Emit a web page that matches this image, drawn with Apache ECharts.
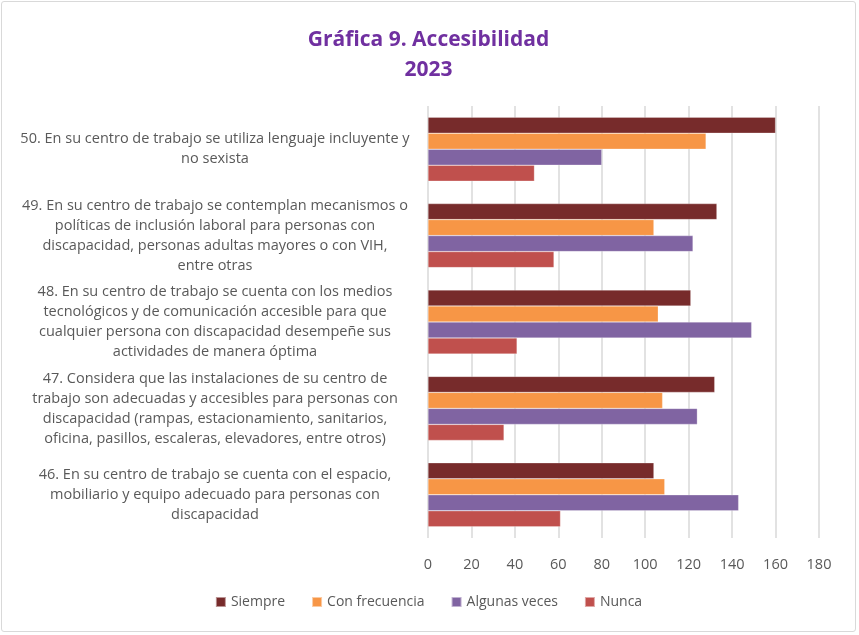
<!DOCTYPE html>
<html>
<head>
<meta charset="utf-8">
<script src="https://cdn.jsdelivr.net/npm/echarts@6/dist/echarts.min.js"></script>
<style>
  html, body { margin: 0; padding: 0; background: #fff; }
  #chart { position: absolute; left: 1px; top: 1px; width: 855px; height: 631px;
           border: 1px solid #d9d9d9; border-radius: 3px; box-sizing: border-box; }
</style>
</head>
<body>
<div id="chart"></div>
<script>
// preguntas, de arriba hacia abajo
var categories = [
  '50. En su centro de trabajo se utiliza lenguaje incluyente y\nno sexista',
  '49. En su centro de trabajo se contemplan mecanismos o\npolíticas de inclusión laboral para personas con\ndiscapacidad, personas adultas mayores o con VIH,\nentre otras',
  '48. En su centro de trabajo se cuenta con los medios\ntecnológicos y de comunicación accesible para que\ncualquier persona con discapacidad desempeñe sus\nactividades de manera óptima',
  '47. Considera que las instalaciones de su centro de\ntrabajo son adecuadas y accesibles para personas con\ndiscapacidad (rampas, estacionamiento, sanitarios,\noficina, pasillos, escaleras, elevadores, entre otros)',
  '46. En su centro de trabajo se cuenta con el espacio,\nmobiliario y equipo adecuado para personas con\ndiscapacidad'
];
var seriesNames = ['Siempre', 'Con frecuencia', 'Algunas veces', 'Nunca'];
var siempre       = [160, 133, 121, 132, 104];
var conFrecuencia = [128, 104, 106, 108, 109];
var algunasVeces  = [80, 122, 149, 124, 143];
var nunca         = [49, 58, 41, 35, 61];
var colors = ['#772b2b', '#f79646', '#8064a2', '#c0504d'];

var font = '"Open Sans", "DejaVu Sans", sans-serif';
var values = [siempre, conFrecuencia, algunasVeces, nunca];

var chart = echarts.init(document.getElementById('chart'));
chart.setOption({
  animation: false,
  color: colors,
  title: {
    text: 'Gráfica 9. Accesibilidad\n2023',
    left: 'center',
    top: 18,
    textStyle: { color: '#7030a0', fontSize: 21, fontWeight: 'bold', fontFamily: font, lineHeight: 30 }
  },
  legend: {
    bottom: 17,
    left: 'center',
    itemWidth: 10,
    itemHeight: 10,
    itemGap: 26,
    icon: 'rect',
    textStyle: { color: '#595959', fontSize: 14, fontFamily: font },
    data: seriesNames
  },
  grid: { left: 426, right: 36, top: 104, bottom: 93 },
  xAxis: {
    type: 'value',
    min: 0,
    max: 180,
    interval: 20,
    axisLine: { show: false },
    axisTick: { show: false },
    splitLine: { lineStyle: { color: '#d9d9d9', width: 1.5 } },
    axisLabel: { color: '#595959', fontSize: 14.5, fontFamily: font, margin: 19 }
  },
  yAxis: {
    type: 'category',
    inverse: true,
    data: categories,
    axisLine: { show: false },
    axisTick: { show: false },
    axisLabel: {
      color: '#595959',
      fontSize: 14.5,
      fontFamily: font,
      lineHeight: 20,
      align: 'center',
      margin: 213
    }
  },
  series: seriesNames.map(function (name, i) {
    return {
      name: name,
      type: 'bar',
      data: values[i],
      barWidth: 16,
      barGap: '0%',
      itemStyle: { color: colors[i], borderColor: 'rgba(255,255,255,0.5)', borderWidth: 0.5 }
    };
  })
});
</script>
</body>
</html>
